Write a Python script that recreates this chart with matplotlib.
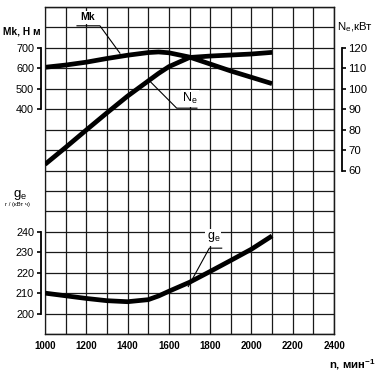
import matplotlib
matplotlib.use("Agg")
import matplotlib.pyplot as plt
import numpy as np

plt.rcParams['font.family'] = ['Liberation Sans', 'DejaVu Sans']
plt.rcParams['mathtext.fontset'] = 'custom'
plt.rcParams['mathtext.rm'] = 'Liberation Sans'
plt.rcParams['mathtext.it'] = 'Liberation Sans'
plt.rcParams['mathtext.bf'] = 'Liberation Sans:bold'

# ---- data ----
rpm = [1000, 1100, 1200, 1300, 1400, 1500, 1550, 1600, 1700, 1800, 1900, 2000, 2100]
torque_Mk = [605, 616, 630, 648, 664, 677, 680, 676, 655, 621, 587, 556, 525]
power_Ne = [63, 71.3, 79.8, 88.2, 96.4, 103.8, 107.5, 110.8, 115.3, 116, 116.5, 117, 117.8]
fuel_ge = [210, 208.7, 207.4, 206.3, 205.8, 206.8, 208.6, 210.9, 215.3, 220.6, 226, 231.5, 238]

x_ticks = [1000, 1200, 1400, 1600, 1800, 2000, 2200, 2400]
mk_ticks = [400, 500, 600, 700]
ne_ticks = [60, 70, 80, 90, 100, 110, 120]
ge_ticks = [200, 210, 220, 230, 240]

W, H = 381, 378
fig = plt.figure(figsize=(W / 100, H / 100), dpi=100)
gl, gr, gt, gb = 45, 334, 7, 334
pos = [gl / W, 1 - gb / H, (gr - gl) / W, (gb - gt) / H]

gridc = '#1a1a1a'
ax = fig.add_axes(pos)
ax.set_xlim(1000, 2400)
ax.set_ylim(-700, 900)
ax.set_xticks(x_ticks)
ax.set_xticks(np.arange(1000, 2401, 100), minor=True)
ax.set_yticks(mk_ticks)
ax.set_yticks(np.arange(-700, 901, 100), minor=True)
ax.grid(True, which='both', color=gridc, lw=0.9)
ax.tick_params(axis='x', which='both', length=0, pad=5, labelsize=7)
ax.tick_params(axis='y', which='minor', length=0)
ax.tick_params(axis='y', which='major', direction='out', length=3.2, width=1.2, pad=1.5, labelsize=7.8)
for lab in ax.get_xticklabels() + ax.get_yticklabels():
    lab.set_fontweight('bold')
ax.spines['left'].set_position(('outward', 3.2))
ax.spines['left'].set_bounds(400, 700)
ax.spines['left'].set_linewidth(1.3)
for s in ['top', 'bottom', 'right']:
    ax.spines[s].set_color(gridc)
    ax.spines[s].set_linewidth(0.9)
ax.set_axisbelow(True)

# frame overlay for left border
axf = fig.add_axes(pos, facecolor='none')
axf.set_xticks([]); axf.set_yticks([])
for s in axf.spines.values():
    s.set_color(gridc); s.set_linewidth(0.9)

# Ne axis (right)
axN = ax.twinx()
axN.set_ylim(-20, 140)
axN.set_yticks(ne_ticks)
axN.tick_params(axis='y', direction='out', length=3.2, width=1.2, pad=1.5, labelsize=8.2)
for lab in axN.get_yticklabels():
    lab.set_fontweight('bold')
for s in ['top', 'bottom', 'left']:
    axN.spines[s].set_visible(False)
axN.spines['right'].set_position(('outward', 5.8))
axN.spines['right'].set_bounds(60, 120)
axN.spines['right'].set_linewidth(1.3)

# ge axis (left)
axG = ax.twinx()
axG.set_ylim(190, 350)
axG.yaxis.tick_left()
axG.set_yticks(ge_ticks)
axG.tick_params(axis='y', direction='out', length=3.2, width=1.2, pad=1.5, labelsize=7.8)
for lab in axG.get_yticklabels():
    lab.set_fontweight('bold')
for s in ['top', 'bottom', 'right']:
    axG.spines[s].set_visible(False)
axG.spines['left'].set_visible(True)
axG.spines['left'].set_position(('outward', 3.2))
axG.spines['left'].set_bounds(200, 240)
axG.spines['left'].set_linewidth(1.3)

lw = 3.4
ax.plot(rpm, torque_Mk, color='black', lw=lw, solid_capstyle='butt', solid_joinstyle='round', zorder=5)
axN.plot(rpm, power_Ne, color='black', lw=lw, solid_capstyle='butt', solid_joinstyle='round', zorder=5)
axG.plot(rpm, fuel_ge, color='black', lw=lw, solid_capstyle='butt', solid_joinstyle='round', zorder=5)

# curve labels with leaders
llw = 0.8
ax.plot([1363, 1266, 1155], [674, 808, 808], color='black', lw=llw, zorder=6)
ax.text(1208, 850, 'Mk', ha='center', va='center', fontsize=7.5, fontweight='bold',
        bbox=dict(boxstyle='square,pad=0.15', fc='white', ec='none'), zorder=6)

axN.plot([1500, 1638, 1736], [104.5, 90.5, 90.5], color='black', lw=llw, zorder=6)
axN.text(1702, 95.3, r'N$_\mathregular{e}$', ha='center', va='center', fontsize=9,
         bbox=dict(boxstyle='square,pad=0.1', fc='white', ec='none'), zorder=6)

axG.plot([1694, 1796, 1856], [213.2, 232, 232], color='black', lw=llw, zorder=6)
axG.text(1816, 237.3, r'g$_\mathregular{e}$', ha='center', va='center', fontsize=9,
         bbox=dict(boxstyle='square,pad=0.1', fc='white', ec='none'), zorder=6)

def ft(x, y, s, **kw):
    fig.text(x / W, 1 - y / H, s, **kw)

ft(3, 31.5, 'Mk, Н м', ha='left', va='center', fontsize=7.3, fontweight='bold')
ft(337, 27.5, r'N$_\mathregular{e}$,кВт', ha='left', va='center', fontsize=8.2)
ft(13, 195, r'g$_\mathregular{e}$', ha='left', va='center', fontsize=9.5)
ft(5, 204.5, 'г / (кВт ч)', ha='left', va='center', fontsize=4.3)
ft(329, 365, r'n, мин$^\mathregular{-1}$', ha='left', va='center', fontsize=8.2, fontweight='bold')

fig.savefig('out.png', dpi=100)
